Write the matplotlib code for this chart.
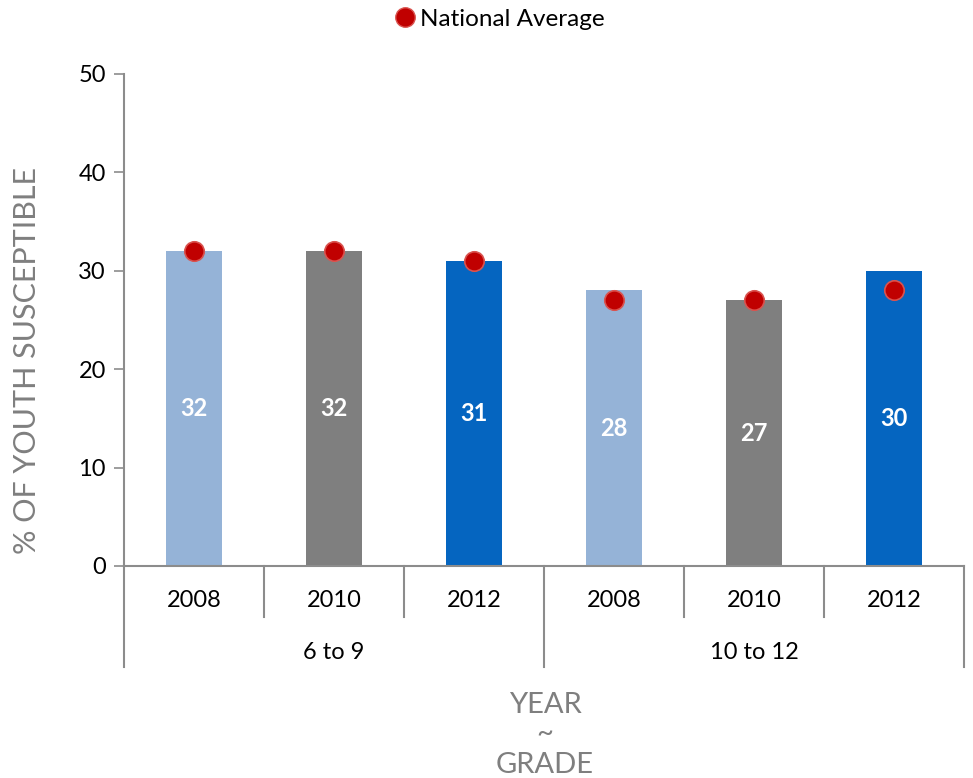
import matplotlib
matplotlib.use("Agg")
import matplotlib.pyplot as plt
from matplotlib.lines import Line2D

plt.rcParams['font.family'] = ['Lato', 'DejaVu Sans']

years = ["2008", "2010", "2012", "2008", "2010", "2012"]
groups = ["6 to 9", "10 to 12"]
values = [32, 32, 31, 28, 27, 30]
national_avg = [32, 32, 31, 27, 27, 28]
bar_colors = ["#95B3D7", "#7F7F7F", "#0565C0", "#95B3D7", "#7F7F7F", "#0565C0"]

axis_gray = "#8C8C8C"

fig = plt.figure(figsize=(9.73, 7.78), dpi=100)
ax = fig.add_axes([124/973, 1 - 566/778, 840/973, 492/778])

x = list(range(len(values)))
bars = ax.bar(x, values, width=0.4, color=bar_colors, zorder=2)
for xi, v in zip(x, values):
    ax.text(xi, v / 2, str(v), ha="center", va="center", color="white",
            fontsize=17, fontweight="bold", zorder=3)

ax.plot(x, national_avg, linestyle="none", marker="o", markersize=14,
        markerfacecolor="#C00000", markeredgecolor="#D9534F",
        markeredgewidth=1.2, zorder=4, clip_on=False)

ax.set_xlim(-0.5, 5.5)
ax.set_ylim(0, 50)
ax.set_yticks([0, 10, 20, 30, 40, 50])
ax.tick_params(axis="y", direction="out", length=7, color=axis_gray,
               labelsize=17, pad=6, width=1.2)
ax.set_xticks([])

for s in ["top", "right"]:
    ax.spines[s].set_visible(False)
for s in ["left", "bottom"]:
    ax.spines[s].set_color(axis_gray)
    ax.spines[s].set_linewidth(1.5)

# multi-level category axis
trans = ax.get_xaxis_transform()
for sep in [0.5, 1.5, 3.5, 4.5]:
    ax.plot([sep, sep], [0, -0.104], color=axis_gray, lw=1.5, transform=trans, clip_on=False)
for sep in [-0.5, 2.5, 5.5]:
    ax.plot([sep, sep], [0, -0.205], color=axis_gray, lw=1.5, transform=trans, clip_on=False)
for xi, yr in zip(x, years):
    ax.text(xi, -0.071, yr, ha="center", va="center", fontsize=17, transform=trans)
for gi, g in enumerate(groups):
    ax.text(gi * 3 + 1, -0.175, g, ha="center", va="center", fontsize=17, transform=trans)

# axis titles
fig.text(27/973, 1 - 360/778, "% OF YOUTH SUSCEPTIBLE", rotation=90,
         ha="center", va="center", color="#7F7F7F", fontsize=22)
fig.text(545/973, 1 - 735/778, "YEAR\n~\nGRADE", ha="center", va="center",
         color="#7F7F7F", fontsize=21, linespacing=1.2)

# legend
handle = Line2D([], [], linestyle="none", marker="o", markersize=14,
                markerfacecolor="#C00000", markeredgecolor="#D9534F")
fig.legend([handle], ["National Average"], loc="center", bbox_to_anchor=(499/973, 1 - 19/778),
           frameon=False, fontsize=17.5, handlelength=1.0, handletextpad=0.1, borderpad=0)

fig.savefig("out.png", dpi=100)
